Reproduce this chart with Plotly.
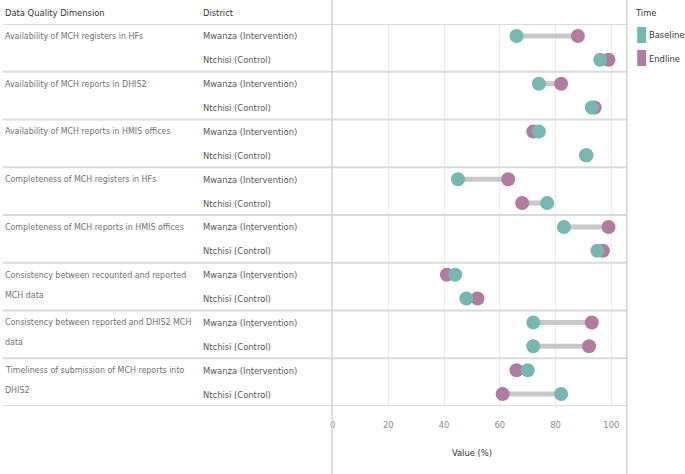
import plotly.graph_objects as go

# ---------------- data ----------------
dimensions = [
    "Availability of MCH registers in HFs",
    "Availability of MCH reports in DHIS2",
    "Availability of MCH reports in HMIS offices",
    "Completeness of MCH registers in HFs",
    "Completeness of MCH reports in HMIS offices",
    "Consistency between recounted and reported\nMCH data",
    "Consistency between reported and DHIS2 MCH\ndata",
    "Timeliness of submission of MCH reports into\nDHIS2",
]
districts = ["Mwanza (Intervention)", "Ntchisi (Control)"]

baseline = [66, 96, 74, 93, 74, 91, 45, 77, 83, 95, 44, 48, 72, 72, 70, 82]
endline = [88, 99, 82, 94, 72, 91, 63, 68, 99, 97, 41, 52, 93, 92, 66, 61]

x_ticks = [0, 20, 40, 60, 80, 100]

TEAL = "#76B7B2"
PURPLE = "#B07AA1"
FONT = "DejaVu Sans Condensed"
FS = 9.3
FS_DIM = 8.8

W, H = 685, 474
X0, X1 = 331, 627
Y_TOP, Y_BOT = 24, 406

rows = []
for d in dimensions:
    for dist in districts:
        rows.append(f"{d.replace(chr(10), ' ')} | {dist}")

fig = go.Figure()

# connecting lines
lx, ly = [], []
for r, b, e in zip(rows, baseline, endline):
    lx += [b, e, None]
    ly += [r, r, None]
fig.add_trace(go.Scatter(x=lx, y=ly, mode="lines",
                         line=dict(color="#C8C8C8", width=5),
                         hoverinfo="skip", showlegend=False))
fig.add_trace(go.Scatter(x=endline, y=rows, mode="markers", name="Endline",
                         marker=dict(color=PURPLE, size=14), showlegend=False))
fig.add_trace(go.Scatter(x=baseline, y=rows, mode="markers", name="Baseline",
                         marker=dict(color=TEAL, size=14), showlegend=False))

shapes = []
annotations = []

# row separators
for k in range(len(dimensions) + 1):
    yv = -0.5 + 2 * k
    shapes.append(dict(type="line", xref="paper", yref="y", x0=0, x1=X1 / W,
                       y0=yv, y1=yv, line=dict(color="#DADADA", width=2)))
# vertical separators
for xv in (X0 - 0.5, X1 - 0.5):
    shapes.append(dict(type="line", xref="paper", yref="paper", x0=xv / W, x1=xv / W,
                       y0=0, y1=1, line=dict(color="#D4D4D4", width=1.5)))

# table text
for i, d in enumerate(dimensions):
    for j, line in enumerate(d.split("\n")):
        annotations.append(dict(text=line, xref="paper", yref="y", x=0,
                                y=rows[2 * i], xanchor="left", yanchor="middle",
                                yshift=-20 * j, showarrow=False,
                                font=dict(family=FONT, size=FS_DIM, color="#707070")))
    for j, dist in enumerate(districts):
        annotations.append(dict(text=dist, xref="paper", yref="y", x=199 / W,
                                y=rows[2 * i + j], xanchor="left", yanchor="middle",
                                showarrow=False,
                                font=dict(family=FONT, size=FS, color="#555555")))

# headers
for txt, xp in (("Data Quality Dimension", 0), ("District", 199)):
    annotations.append(dict(text=txt, xref="paper", yref="paper", x=xp / W,
                            y=1 - 12 / H, xanchor="left", yanchor="middle",
                            showarrow=False,
                            font=dict(family=FONT, size=FS, color="#333333")))

# axis title
annotations.append(dict(text="Value (%)", xref="paper", yref="paper",
                        x=471 / W, y=1 - 452 / H,
                        xanchor="center", yanchor="middle", showarrow=False,
                        font=dict(family=FONT, size=FS, color="#333333")))

# legend
annotations.append(dict(text="Time", xref="paper", yref="paper", x=633 / W,
                        y=1 - 12 / H, xanchor="left", yanchor="middle",
                        showarrow=False,
                        font=dict(family=FONT, size=FS, color="#333333")))
for k, (name, col) in enumerate((("Baseline", TEAL), ("Endline", PURPLE))):
    yc = 35 + 23 * k
    shapes.append(dict(type="rect", xref="paper", yref="paper",
                       x0=637 / W, x1=646 / W, y0=1 - (yc + 8) / H, y1=1 - (yc - 8) / H,
                       fillcolor=col, line=dict(width=0)))
    annotations.append(dict(text=name, xref="paper", yref="paper", x=647 / W,
                            y=1 - yc / H, xanchor="left", yanchor="middle",
                            showarrow=False,
                            font=dict(family=FONT, size=FS, color="#333333")))

fig.update_layout(
    width=W, height=H,
    margin=dict(l=0, r=0, t=0, b=0),
    paper_bgcolor="white", plot_bgcolor="white",
    showlegend=False,
    shapes=shapes, annotations=annotations,
    xaxis=dict(domain=[X0 / W, X1 / W], range=[0, (X1 - X0) / 2.8],
               tickvals=x_ticks, ticktext=[str(t) for t in x_ticks],
               ticks="outside", ticklen=10, tickcolor="rgba(0,0,0,0)",
               showgrid=True, gridcolor="#EBEBEB", gridwidth=1,
               zeroline=False, showline=False,
               tickfont=dict(family=FONT, size=FS, color="#8A8A8A")),
    yaxis=dict(domain=[1 - Y_BOT / H, 1 - Y_TOP / H],
               type="category", categoryorder="array", categoryarray=rows,
               range=[len(rows) - 0.5, -0.5],
               showticklabels=False, showgrid=False, zeroline=False,
               showline=False, ticks=""),
)

fig.write_html("out.html", config={"displayModeBar": False},
               post_script="document.body.style.margin='0';")
